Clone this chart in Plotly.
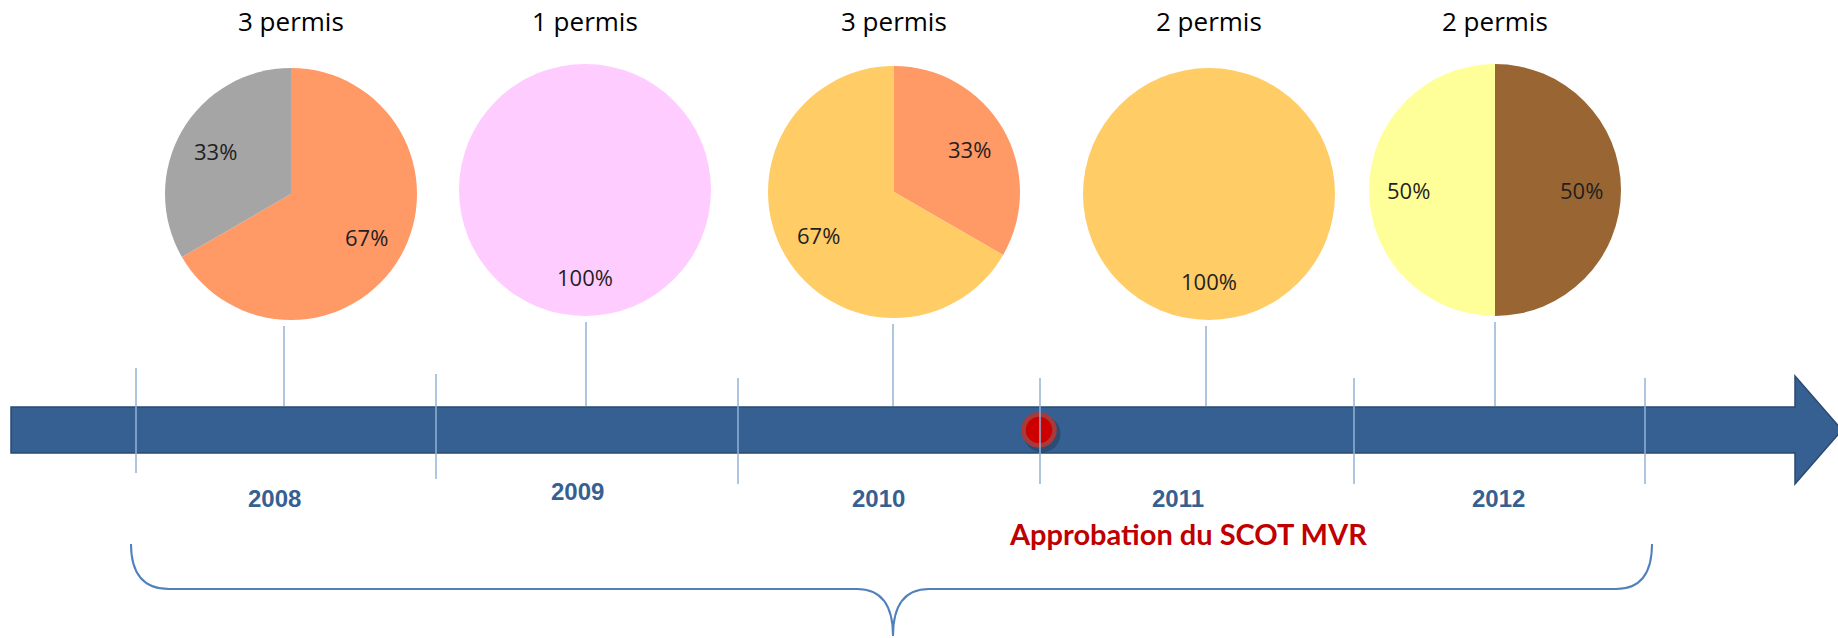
import math
import plotly.graph_objects as go

# ---------- Data ----------
years = ["2008", "2009", "2010", "2011", "2012"]
permit_totals = [3, 1, 3, 2, 2]
# permits per category, per year (slice order = clockwise from 12 o'clock)
slice_counts = [[2, 1], [1], [1, 2], [2], [1, 1]]
milestone_label = "Approbation du SCOT MVR"

# ---------- Styles / layout constants (page pixel space) ----------
W, H = 1838, 638

slice_colors = [
    ["#FF9966", "#A5A5A5"],
    ["#FFCCFF"],
    ["#FF9966", "#FFCC66"],
    ["#FFCC66"],
    ["#996633", "#FFFF99"],
]
pie_cx = [291, 585, 894, 1209, 1495]
pie_cy = [194, 190, 192, 194, 190]
pie_r = 126
year_x = [274, 577, 878, 1178, 1498]
year_y = [498, 491, 498, 498, 498]
divider_x = [136, 436, 738, 1040, 1354, 1645]
divider_y = [(368, 473), (374, 479), (378, 484), (378, 484), (378, 484), (378, 484)]
connector_x = [284, 586, 893, 1206, 1495]
bar_top, bar_bot = 407, 453
milestone_x, milestone_y = 1039, 430

BAR_BLUE = "#366092"
LINE_BLUE = "#95B3D7"
BRACE_BLUE = "#4F81BD"

fig = go.Figure()

# ---------- Timeline arrow ----------
fig.add_shape(
    type="path",
    path=f"M 11,{bar_top} L 1795,{bar_top} L 1795,376 L 1842,430 L 1795,484 "
         f"L 1795,{bar_bot} L 11,{bar_bot} Z",
    fillcolor=BAR_BLUE, line=dict(color="#2A4A70", width=1.5), layer="below",
)

# dividers between years
for x, (y0, y1) in zip(divider_x, divider_y):
    fig.add_shape(type="line", x0=x, x1=x, y0=y0, y1=y1,
                  line=dict(color=LINE_BLUE, width=1.5))

# connectors from pies to the bar
for x, cy in zip(connector_x, pie_cy):
    fig.add_shape(type="line", x0=x, x1=x, y0=cy + pie_r + 6, y1=bar_top - 1,
                  line=dict(color=LINE_BLUE, width=1.5))

# brace spanning the period
bx0, bx1, bmid = divider_x[0] - 5, divider_x[-1] + 7, 893
by0, by1, by2 = 544, 589, 636
fig.add_shape(
    type="path",
    path=(f"M {bx0},{by0} Q {bx0},{by1} {bx0 + 38},{by1} L {bmid - 36},{by1} "
          f"Q {bmid},{by1} {bmid},{by2} Q {bmid},{by1} {bmid + 36},{by1} "
          f"L {bx1 - 36},{by1} Q {bx1},{by1} {bx1},{by0}"),
    line=dict(color=BRACE_BLUE, width=2),
)

# milestone dot (shadow + dot)
fig.add_trace(go.Scatter(
    x=[milestone_x + 3], y=[milestone_y + 4], mode="markers",
    marker=dict(size=37, color="rgba(20,30,50,0.30)", line=dict(width=0)),
    hoverinfo="skip", showlegend=False,
))
fig.add_trace(go.Scatter(
    x=[milestone_x], y=[milestone_y], mode="markers",
    marker=dict(size=31, color="#CC0000", line=dict(color="#A93A3A", width=4.5)),
    hoverinfo="skip", showlegend=False,
))

# ---------- Pies ----------
annotations = []
for i, (yr, counts) in enumerate(zip(years, slice_counts)):
    cx, cy = pie_cx[i], pie_cy[i]
    fig.add_trace(go.Pie(
        values=counts,
        labels=[f"{yr}-{k}" for k in range(len(counts))],
        marker=dict(colors=slice_colors[i], line=dict(width=0)),
        sort=False, direction="clockwise", rotation=0,
        textinfo="none", hoverinfo="percent", showlegend=False,
        domain=dict(x=[(cx - pie_r) / W, (cx + pie_r) / W],
                    y=[1 - (cy + pie_r) / H, 1 - (cy - pie_r) / H]),
    ))
    total = sum(counts)
    cum = 0
    for c in counts:
        mid = (cum + c / 2) / total * 2 * math.pi
        cum += c
        annotations.append(dict(
            x=cx + 0.69 * pie_r * math.sin(mid),
            y=cy - 0.69 * pie_r * math.cos(mid),
            text=f"{round(c / total * 100)}%", showarrow=False,
            font=dict(family="Open Sans, Lato, sans-serif", size=22, color="#1F1F1F"),
        ))
    # title above each pie
    annotations.append(dict(
        x=cx, y=21, text=f"{permit_totals[i]} permis", showarrow=False,
        font=dict(family="Open Sans, Lato, sans-serif", size=26, color="#000000"),
    ))
    # year label below the bar
    annotations.append(dict(
        x=year_x[i], y=year_y[i], text=f"<b>{yr}</b>", showarrow=False,
        font=dict(family="Liberation Sans, Arial, sans-serif", size=24, color=BAR_BLUE),
    ))

annotations.append(dict(
    x=1188, y=533, text=f"<b>{milestone_label}</b>", showarrow=False,
    font=dict(family="Lato, Open Sans, sans-serif", size=29, color="#C00000"),
))

fig.update_layout(
    width=W, height=H,
    margin=dict(l=0, r=0, t=0, b=0),
    paper_bgcolor="white", plot_bgcolor="white",
    xaxis=dict(range=[0, W], visible=False, fixedrange=True),
    yaxis=dict(range=[H, 0], visible=False, fixedrange=True),
    annotations=annotations,
    showlegend=False,
)

# drop the browser's default body margin so the figure fills the window
fig.write_html(
    "out.html",
    config={"displayModeBar": False},
    post_script="document.body.style.margin='0';",
)
